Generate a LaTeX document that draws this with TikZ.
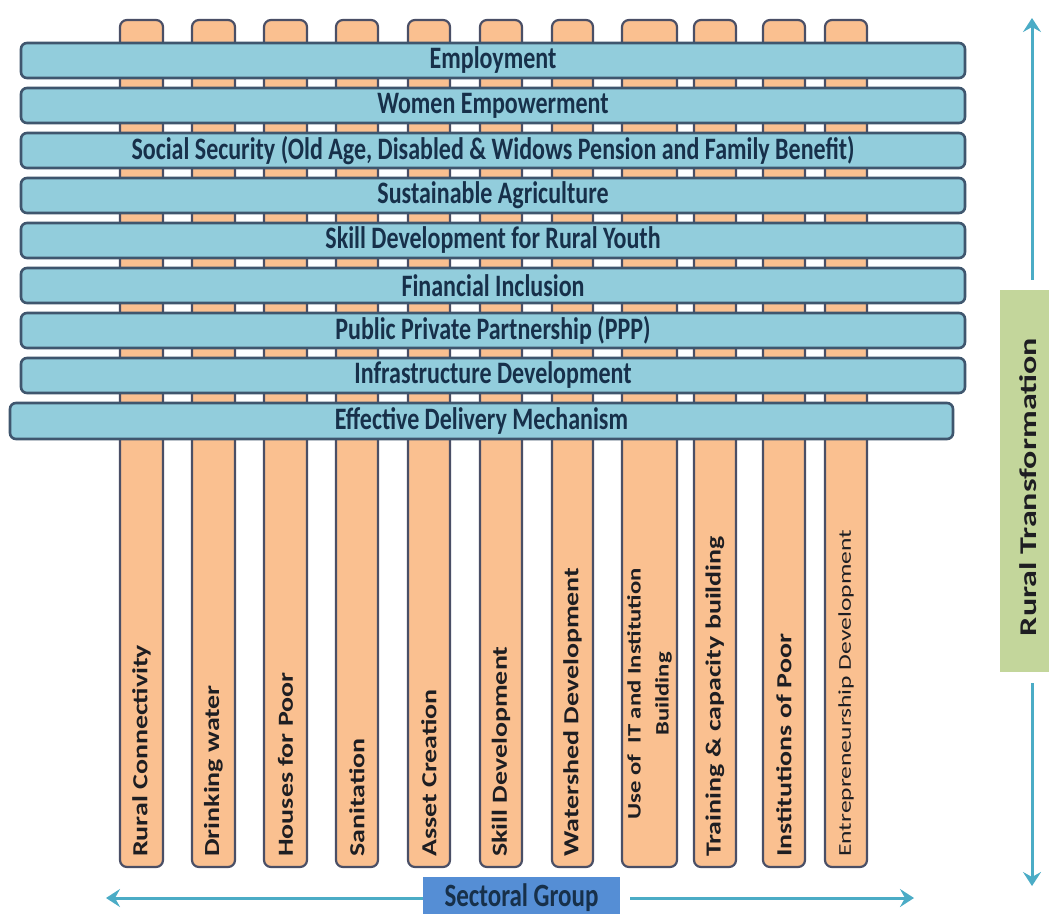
\documentclass[tikz,border=0pt]{standalone}
\usepackage{fontspec}
\setmainfont{Carlito}
\usetikzlibrary{arrows.meta}

\definecolor{barfill}{HTML}{92CDDC}
\definecolor{barline}{HTML}{3F566E}
\definecolor{bartext}{HTML}{17304A}
\definecolor{colfill}{HTML}{FAC090}
\definecolor{colline}{HTML}{4A4F66}
\definecolor{coltextc}{HTML}{1E1E22}
\definecolor{greenbox}{HTML}{C3D69B}
\definecolor{flowc}{HTML}{4BACC6}
\definecolor{groupbox}{HTML}{558ED5}

% horizontal labels are set tall and narrow, vertical ones long and thin
\newcommand{\tallify}[1]{\scalebox{1}[1.3]{#1}}
\newcommand{\longify}[1]{\scalebox{1.3}[1]{#1}}

\tikzset{
  colbox/.style={draw=colline, line width=2.2pt, fill=colfill, rounded corners=7pt,
    inner sep=0pt, outer sep=0pt, minimum height=847pt},
  barbox/.style={draw=barline, line width=2.6pt, fill=barfill, rounded corners=6pt,
    inner sep=0pt, outer sep=0pt, minimum height=35pt, text=bartext,
    font=\fontsize{24}{28}\selectfont\bfseries},
  coltext/.style={rotate=90, anchor=west, inner sep=0pt, text=coltextc,
    font=\fontsize{21.5}{26}\selectfont\bfseries},
  flow/.style={draw=flowc, line width=3pt,
    -{Stealth[length=14pt,width=18pt,inset=5pt]}},
}

\begin{document}
\begin{tikzpicture}[x=1pt,y=-1pt]
\useasboundingbox (0,0) rectangle (1049,913);
\fill[white] (0,0) rectangle (1049,913);

% sectoral columns (drawn first, so the bars lie across them)
\foreach \i/\l/\r in {1/120/163,2/192/235,3/264/307,4/336/378,5/408/450,6/480/522,
                      7/552/593,8/622/677,9/694/736,10/763/805,11/825/867}
  \node[colbox, minimum width={\r-\l}] (c\i) at ({(\l+\r)/2},443.5) {};

% cross-cutting themes
\node[barbox, minimum width=944pt] (b1) at (493,60.5) {\tallify{Employment}};
\node[barbox, minimum width=944pt] (b2) at (493,105.5) {\tallify{Women Empowerment}};
\node[barbox, minimum width=944pt] (b3) at (493,150.5) {\tallify{Social Security (Old Age, Disabled \& Widows Pension and Family Benefit)}};
\node[barbox, minimum width=944pt] (b4) at (493,195.5) {\tallify{Sustainable Agriculture}};
\node[barbox, minimum width=944pt] (b5) at (493,240.5) {\tallify{Skill Development for Rural Youth}};
\node[barbox, minimum width=944pt] (b6) at (493,285.5) {\tallify{Financial Inclusion}};
\node[barbox, minimum width=944pt] (b7) at (493,330.5) {\tallify{Public Private Partnership (PPP)}};
\node[barbox, minimum width=944pt] (b8) at (493,375.5) {\tallify{Infrastructure Development}};
\node[barbox, minimum width=943pt, minimum height=36pt] (b9) at (481.5,421) {\tallify{Effective Delivery Mechanism}};

% column labels, reading upwards from the foot of each column
\path (c1.south) ++(0,-10) node[coltext] (t1) {\longify{Rural Connectivity}};
\path (c2.south) ++(0,-10) node[coltext] (t2) {\longify{Drinking water}};
\path (c3.south) ++(0,-10) node[coltext] (t3) {\longify{Houses for Poor}};
\path (c4.south) ++(0,-10) node[coltext] (t4) {\longify{Sanitation}};
\path (c5.south) ++(0,-10) node[coltext] (t5) {\longify{Asset Creation}};
\path (c6.south) ++(0,-10) node[coltext] (t6) {\longify{Skill Development}};
\path (c7.south) ++(0,-10) node[coltext] (t7) {\longify{Watershed Development}};
\path (c8.south) ++(0,-47) node[coltext, align=center,
    font=\fontsize{19}{28}\selectfont\bfseries] (t8)
    {\longify{Use of\ \ IT and Institution}\\\longify{Building}};
\path (c9.south) ++(0,-10) node[coltext] (t9) {\longify{Training \& capacity building}};
\path (c10.south) ++(0,-10) node[coltext] (t10) {\longify{Institutions of Poor}};
\path (c11.south) ++(0,-10) node[coltext, font=\fontsize{18}{22}\selectfont] (t11)
    {\scalebox{1.42}[1]{Entrepreneurship Development}};

% vertical axis: rural transformation
\node[fill=greenbox, inner sep=0pt, minimum width=56pt, minimum height=382pt] (rt) at (1028,481) {};
\node[rotate=90, inner sep=0pt, text=coltextc, font=\fontsize{24}{28}\selectfont\bfseries] (rtl) at (1028,487)
  {\scalebox{1.42}[1]{Rural Transformation}};
\coordinate (uptip) at (1032,18);
\coordinate (downtip) at (1032,886);
\draw[flow, shorten <=10pt] (rt.north -| uptip) -- (uptip);
\draw[flow, shorten <=11pt] (rt.south -| downtip) -- (downtip);

% horizontal axis: sectoral group
\node[fill=groupbox, inner sep=0pt, minimum width=197pt, minimum height=42pt,
  text=bartext, font=\fontsize{25}{28}\selectfont\bfseries] (sg) at (521.5,898)
  {\raisebox{-3pt}{\tallify{Sectoral Group}}};
\coordinate (lefttip) at (106,898);
\coordinate (righttip) at (914,898);
\draw[flow] (sg.west) -- (lefttip);
\draw[flow, shorten <=10pt] (sg.east) -- (righttip);
\end{tikzpicture}
\end{document}
